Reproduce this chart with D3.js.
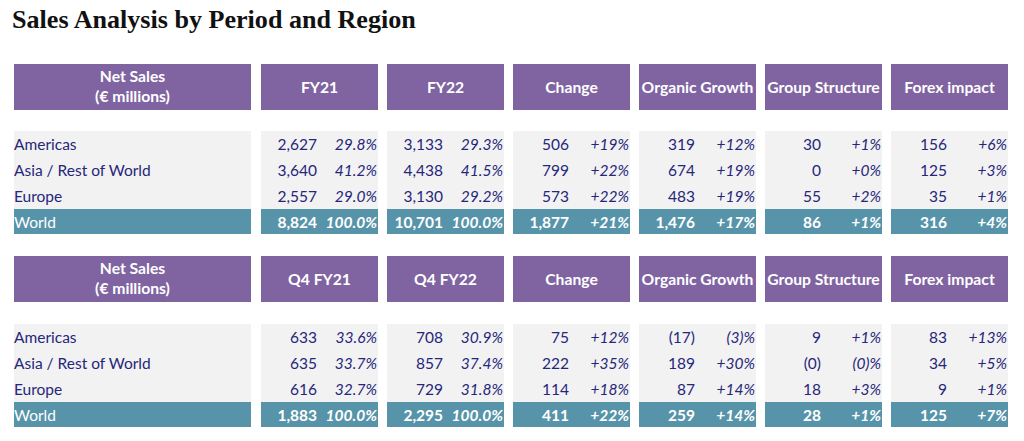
<!DOCTYPE html>
<html><head><meta charset="utf-8">
<script src="https://cdn.jsdelivr.net/npm/d3@7"></script>
<style>
html,body{margin:0;padding:0;background:#fff;}
svg{display:block;}
</style></head>
<body>
<svg id="chart" width="1024" height="441"></svg>
<script>
// ---------- DATA ----------
const title = "Sales Analysis by Period and Region";
const regions = ["Americas", "Asia / Rest of World", "Europe", "World"];
const labelHeader = ["Net Sales", "(€ millions)"];
const columnsFY = ["FY21", "FY22", "Change", "Organic Growth", "Group Structure", "Forex impact"];
const columnsQ4 = ["Q4 FY21", "Q4 FY22", "Change", "Organic Growth", "Group Structure", "Forex impact"];

// Full year: value per column, per region
const fyValues = [
  [2627, 3133, 506, 319, 30, 156],
  [3640, 4438, 799, 674, 0, 125],
  [2557, 3130, 573, 483, 55, 35],
  [8824, 10701, 1877, 1476, 86, 316]
];
const fyPercents = [
  [29.8, 29.3, 19, 12, 1, 6],
  [41.2, 41.5, 22, 19, 0, 3],
  [29.0, 29.2, 22, 19, 2, 1],
  [100.0, 100.0, 21, 17, 1, 4]
];
// Q4
const q4Values = [
  [633, 708, 75, -17, 9, 83],
  [635, 857, 222, 189, -0, 34],
  [616, 729, 114, 87, 18, 9],
  [1883, 2295, 411, 259, 28, 125]
];
const q4Percents = [
  [33.6, 30.9, 12, -3, 1, 13],
  [33.7, 37.4, 35, 30, -0, 5],
  [32.7, 31.8, 18, 14, 3, 1],
  [100.0, 100.0, 22, 14, 1, 7]
];
// first two columns are shares of total, the rest are growth rates
const shareColumns = 2;

// ---------- STYLE ----------
const purple = "#8064a2", teal = "#5794aa", grey = "#f2f2f2", ink = "#26267a";
const bodyFont = "Lato, 'Open Sans', sans-serif";
const headSize = 15.7;

const svg = d3.select("#chart");

const tt = svg.append("text")
  .attr("x", 12).attr("y", 28)
  .attr("font-family", "'Liberation Serif', 'DejaVu Serif', serif")
  .attr("font-weight", "bold").attr("font-size", 23)
  .attr("fill", "#111")
  .text(title);
{ // fit title to reference width
  const w = tt.node().getComputedTextLength();
  tt.attr("font-size", 23 * 404 / w);
}

const numFmt = d3.format(",");
function fmtValue(v) {
  if (v < 0 || Object.is(v, -0)) return "(" + numFmt(Math.abs(v)) + ")";
  return numFmt(v);
}
function fmtPct(v, share) {
  if (share) return d3.format(".1f")(v) + "%";
  if (v < 0 || Object.is(v, -0)) return "(" + Math.abs(v) + ")%";
  return "+" + v + "%";
}

const x = d3.scaleBand().domain(d3.range(6)).range([261, 1008]).paddingInner(9 / 126);
const labelX0 = 14, labelX1 = 251;

function drawTable(headerTop, bodyTop, cols, values, percents) {
  const g = svg.append("g");
  const headerH = 46;
  const y = d3.scaleBand().domain(d3.range(regions.length)).range([bodyTop, bodyTop + 26 * regions.length]);

  // header
  g.append("rect").attr("x", labelX0).attr("y", headerTop).attr("width", labelX1 - labelX0).attr("height", headerH).attr("fill", purple);
  g.append("text").attr("x", (labelX0 + labelX1) / 2).attr("y", headerTop + 18)
    .attr("text-anchor", "middle").attr("font-family", bodyFont).attr("font-weight", "bold")
    .attr("font-size", headSize).attr("fill", "#fff").text(labelHeader[0]);
  g.append("text").attr("x", (labelX0 + labelX1) / 2).attr("y", headerTop + 38)
    .attr("text-anchor", "middle").attr("font-family", bodyFont).attr("font-weight", "bold")
    .attr("font-size", headSize).attr("fill", "#fff").text(labelHeader[1]);

  g.selectAll("rect.h").data(cols).join("rect").attr("class", "h")
    .attr("x", (d, i) => x(i)).attr("y", headerTop).attr("width", x.bandwidth()).attr("height", headerH)
    .attr("fill", purple);
  g.selectAll("text.h").data(cols).join("text").attr("class", "h")
    .attr("x", (d, i) => x(i) + x.bandwidth() / 2).attr("y", headerTop + headerH / 2 + 6)
    .attr("text-anchor", "middle").attr("font-family", bodyFont).attr("font-weight", "bold")
    .attr("font-size", headSize).attr("fill", "#fff").text(d => d);

  // body backgrounds
  const nReg = regions.length - 1;
  const bodyBottom = y(nReg);
  g.append("rect").attr("x", labelX0).attr("y", bodyTop).attr("width", labelX1 - labelX0).attr("height", bodyBottom - bodyTop).attr("fill", grey);
  g.selectAll("rect.b").data(cols).join("rect").attr("class", "b")
    .attr("x", (d, i) => x(i)).attr("y", bodyTop).attr("width", x.bandwidth()).attr("height", bodyBottom - bodyTop).attr("fill", grey);
  // total row
  g.append("rect").attr("x", labelX0).attr("y", y(nReg)).attr("width", labelX1 - labelX0).attr("height", y.bandwidth() - 1).attr("fill", teal);
  g.selectAll("rect.t").data(cols).join("rect").attr("class", "t")
    .attr("x", (d, i) => x(i)).attr("y", y(nReg)).attr("width", x.bandwidth()).attr("height", y.bandwidth() - 1).attr("fill", teal);

  // row labels
  g.selectAll("text.r").data(regions).join("text").attr("class", "r")
    .attr("x", labelX0).attr("y", (d, i) => y(i) + y.bandwidth() / 2 + 6)
    .attr("font-family", bodyFont).attr("font-size", 15.5)
    .attr("fill", (d, i) => i === nReg ? "#fff" : ink).text(d => d);

  // cells
  regions.forEach((r, ri) => {
    const fill = ri === nReg ? "#fff" : ink;
    const fw = ri === nReg ? "bold" : "normal";
    const cy = y(ri) + y.bandwidth() / 2 + 6;
    g.selectAll("text.v" + ri).data(values[ri]).join("text").attr("class", "v" + ri)
      .attr("x", (d, i) => x(i) + 56).attr("y", cy).attr("text-anchor", "end")
      .attr("font-family", bodyFont).attr("font-size", 15.5).attr("font-weight", fw)
      .attr("fill", fill).text(d => fmtValue(d));
    g.selectAll("text.p" + ri).data(percents[ri]).join("text").attr("class", "p" + ri)
      .attr("x", (d, i) => x(i) + x.bandwidth() - 1).attr("y", cy).attr("text-anchor", "end")
      .attr("font-family", bodyFont).attr("font-size", 15.5).attr("font-style", "italic").attr("font-weight", fw)
      .attr("fill", fill).text((d, i) => fmtPct(d, i < shareColumns));
  });
}

drawTable(64, 131, columnsFY, fyValues, fyPercents);
drawTable(256, 324, columnsQ4, q4Values, q4Percents);
</script>
</body></html>
